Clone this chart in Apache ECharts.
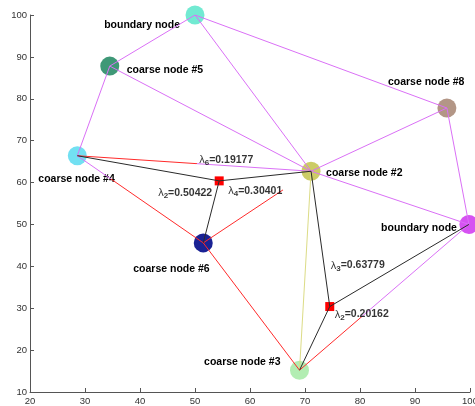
<!DOCTYPE html>
<html>
<head>
<meta charset="utf-8">
<script src="https://cdn.jsdelivr.net/npm/echarts@6/dist/echarts.min.js"></script>
<style>html,body{margin:0;padding:0;background:#fff}#c{width:475px;height:406px}</style>
</head>
<body>
<div id="c"></div>
<script>
// ---- data ----
const nodeNames = ['boundary node', 'coarse node #5', 'coarse node #4', 'coarse node #2',
                   'coarse node #8', 'boundary node', 'coarse node #6', 'coarse node #3'];
const nodeX = [50.0, 34.5, 28.6, 71.1, 95.8, 99.8, 51.5, 69.0];
const nodeY = [100.0, 87.8, 66.4, 62.7, 77.8, 50.0, 45.6, 15.2];
const squareX = [54.4, 74.5];
const squareY = [60.4, 30.4];
const magentaEdges = [[0, 1], [0, 3], [0, 4], [1, 2], [1, 3], [3, 4], [3, 5], [4, 5]];
const redEdges = [[6, 7]];
const redMagentaEdges = [[2, 3], [7, 5]];
const magentaRedEdges = [[2, 6]];
const redFadeEdges = [[6, 3]];
const yellowEdges = [[3, 7]];
const blackEdges = [[0, 2], [0, 3], [0, 6], [1, 3], [1, 5], [1, 7]]; // [square, node]
const lambdaSquare = [0, 0, 0, 1, 1];
const lambdaIndex = ['6', '2', '4', '3', '2'];
const lambdaValue = ['0.19177', '0.50422', '0.30401', '0.63779', '0.20162'];
const xTicks = [20, 30, 40, 50, 60, 70, 80, 90, 100];
const yTicks = [10, 20, 30, 40, 50, 60, 70, 80, 90, 100];

// ---- styles ----
const nodeColors = ['#72ead2', '#3f9877', '#72e0f2', '#cccc66', '#b39686', '#d652f2', '#1a2294', '#b2edb2'];
const nodeLabelStyle = [
  {align: 'right', offset: [-15, 10]},
  {align: 'left', offset: [17, 4]},
  {align: 'left', offset: [-39, 23]},
  {align: 'left', offset: [15, 2]},
  {align: 'left', offset: [-59, -26]},
  {align: 'right', offset: [-12, 4]},
  {align: 'left', offset: [-70, 26]},
  {align: 'right', offset: [-19, -8]}
];
const lambdaLabelStyle = [
  {align: 'left', offset: [-20, -21]},
  {align: 'right', offset: [-7, 12]},
  {align: 'left', offset: [9, 10]},
  {align: 'left', offset: [1, -41]},
  {align: 'left', offset: [5, 8]}
];
const MAG = '#da70f6', RED = '#ff2a2a', BLK = '#2a2a2a', YEL = '#dcdc86';
const FONT = '"Liberation Sans", Arial, Helvetica, sans-serif';

function gradFor(a, b, c1, c2, f) {
  const x0 = nodeX[a] < nodeX[b] ? 0 : 1;
  const y0 = nodeY[a] > nodeY[b] ? 0 : 1;
  return new echarts.graphic.LinearGradient(x0, y0, 1 - x0, 1 - y0, [
    {offset: 0, color: c1}, {offset: f, color: c1},
    {offset: f, color: c2}, {offset: 1, color: c2}
  ]);
}

const series = [];
function edgeSeries(p, q, color) {
  series.push({
    type: 'line', data: [p, q], symbol: 'none', silent: true, z: 5,
    lineStyle: {width: 1, color: color}, animation: false
  });
}
const P = i => [nodeX[i], nodeY[i]];
const S = i => [squareX[i], squareY[i]];

magentaEdges.forEach(e => edgeSeries(P(e[0]), P(e[1]), MAG));
redEdges.forEach(e => edgeSeries(P(e[0]), P(e[1]), RED));
redMagentaEdges.forEach((e, k) => edgeSeries(P(e[0]), P(e[1]), gradFor(e[0], e[1], RED, MAG, [0.51, 0.37][k])));
magentaRedEdges.forEach(e => edgeSeries(P(e[0]), P(e[1]), gradFor(e[0], e[1], MAG, RED, 0.275)));
redFadeEdges.forEach(e => edgeSeries(P(e[0]), P(e[1]), gradFor(e[0], e[1], RED, 'rgba(255,0,0,0)', 0.73)));
yellowEdges.forEach(e => edgeSeries(P(e[0]), P(e[1]), YEL));
blackEdges.forEach(e => edgeSeries(S(e[0]), P(e[1]), BLK));

// nodes
series.push({
  type: 'scatter', z: 1, symbol: 'circle', symbolSize: 19, silent: true,
  data: nodeNames.map((n, i) => ({
    value: [nodeX[i], nodeY[i]],
    itemStyle: {color: nodeColors[i], opacity: 1},
    label: {
      show: true, formatter: n, position: 'inside', align: nodeLabelStyle[i].align,
      verticalAlign: 'middle', offset: nodeLabelStyle[i].offset,
      color: '#000', fontWeight: 'bold', fontSize: 10.5, fontFamily: FONT
    }
  }))
});
// squares
series.push({
  type: 'scatter', z: 3, symbol: 'rect', symbolSize: 9, silent: true,
  itemStyle: {color: '#ff0000', opacity: 1},
  data: squareX.map((x, i) => [x, squareY[i]])
});
// lambda labels
series.push({
  type: 'scatter', z: 6, symbol: 'circle', symbolSize: 1, silent: true,
  itemStyle: {color: 'rgba(0,0,0,0)'},
  data: lambdaSquare.map((s, k) => ({
    value: [squareX[s], squareY[s]],
    label: {
      show: true, position: 'inside', align: lambdaLabelStyle[k].align,
      verticalAlign: 'middle', offset: lambdaLabelStyle[k].offset,
      formatter: '{l|λ}{s|' + lambdaIndex[k] + '}{v|=' + lambdaValue[k] + '}',
      rich: {
        l: {fontSize: 11, fontFamily: FONT, color: '#000', lineHeight: 14, verticalAlign: 'middle'},
        s: {fontSize: 8, fontFamily: FONT, fontWeight: 'bold', color: '#000', lineHeight: 8, verticalAlign: 'bottom'},
        v: {fontSize: 10.5, fontFamily: FONT, fontWeight: 'bold', color: '#000', lineHeight: 14, verticalAlign: 'middle'}
      }
    }
  }))
});

const chart = echarts.init(document.getElementById('c'), null, {renderer: 'canvas'});
chart.setOption({
  animation: false,
  backgroundColor: '#fff',
  grid: {left: 30, right: 5, top: 15, bottom: 14, containLabel: false, outerBoundsMode: 'none'},
  xAxis: {
    type: 'value', min: xTicks[0], max: xTicks[xTicks.length - 1], interval: 10,
    splitLine: {show: false},
    axisLine: {show: true, onZero: false, lineStyle: {color: '#555', width: 1}},
    axisTick: {show: true, inside: true, length: 4, lineStyle: {color: '#555'}},
    axisLabel: {color: '#333', fontSize: 9.5, fontFamily: FONT, margin: 4, hideOverlap: false}
  },
  yAxis: {
    type: 'value', min: yTicks[0], max: yTicks[yTicks.length - 1], interval: 10,
    splitLine: {show: false},
    axisLine: {show: true, onZero: false, lineStyle: {color: '#555', width: 1}},
    axisTick: {show: true, inside: true, length: 4, lineStyle: {color: '#555'}},
    axisLabel: {color: '#333', fontSize: 9.5, fontFamily: FONT, margin: 3}
  },
  series: series
});
</script>
</body>
</html>
